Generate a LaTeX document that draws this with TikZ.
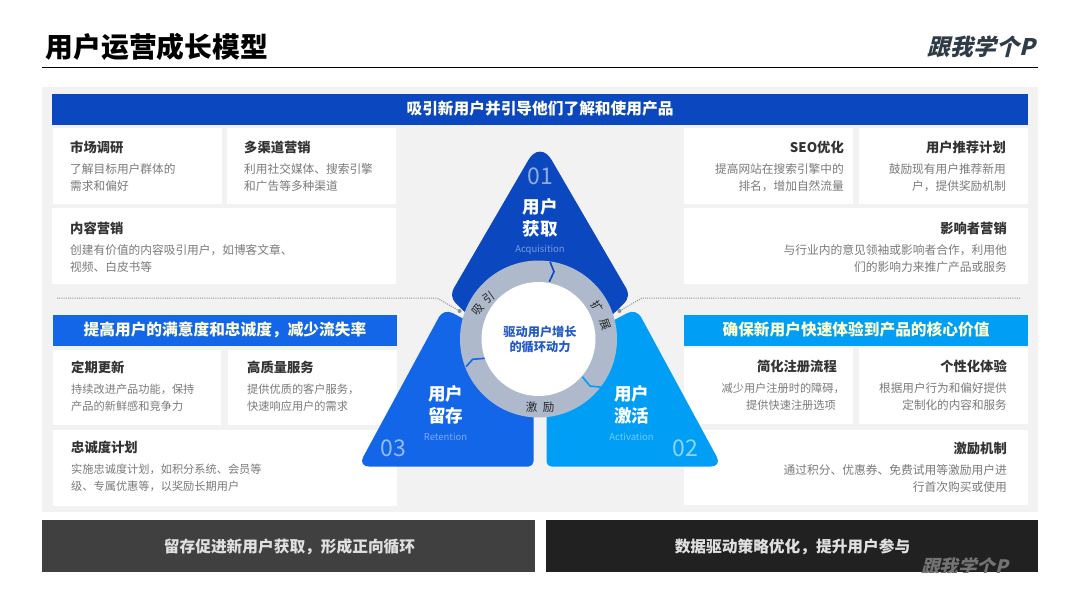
\documentclass[tikz,border=0pt]{standalone}
\usepackage{fontspec}
\setmainfont{Noto Sans CJK SC}
\newfontfamily\logofont[FakeSlant=0.25]{Noto Sans CJK SC}
\definecolor{panelgray}{HTML}{F2F2F2}
\definecolor{acqblue}{HTML}{0B47BF}
\definecolor{retblue}{HTML}{1366E8}
\definecolor{actblue}{HTML}{009FF5}
\definecolor{ringgray}{HTML}{AEBACC}
\definecolor{titlegray}{HTML}{333333}
\definecolor{bodygray}{HTML}{7A7A7A}
\definecolor{logogray}{HTML}{2F3B47}
\definecolor{guidegray}{HTML}{8A8F99}
\tikzset{
    card/.style={fill=white, inner sep=0pt},
    cardhead/.style={font=\fontsize{13.3}{15}\selectfont\bfseries, text=titlegray, inner sep=0pt},
    cardbody/.style={font=\fontsize{#1}{17.5}\selectfont, text=bodygray, inner sep=0pt},
    bartext/.style={font=\fontsize{15.7}{18}\selectfont\bfseries, inner sep=0pt},
    tribig/.style={font=\fontsize{17.5}{22}\selectfont\bfseries, text=white, align=center, inner sep=0pt},
    trinum/.style={font=\fontsize{23}{26}\selectfont, inner sep=0pt},
    trieng/.style={font=\fontsize{9.5}{11}\selectfont, inner sep=0pt},
    ringtext/.style={font=\fontsize{11.5}{13}\selectfont, text=black!85, inner sep=0pt},
    logotext/.style={font=\fontsize{#1}{23}\logofont\bfseries, inner sep=0pt},
    guide/.style={draw=guidegray, line width=1pt, dash pattern=on 1pt off 1.2pt},
    guidedot/.style={circle, fill=guidegray, minimum size=4pt, inner sep=0pt},
}
\begin{document}
\begin{tikzpicture}[x=1pt,y=-1pt]
    \useasboundingbox (0,0) rectangle (1080,608);
    \fill[white] (0,0) rectangle (1080,608);
    % heading
        \node[anchor=west, inner sep=0pt, font=\fontsize{27.8}{30}\selectfont\bfseries] (title) at (45.5,47) {用户运营成长模型};
        \node[logotext=22.8, anchor=east, text=logogray] (logo) at (1035,47) {跟我学个P};
        \coordinate (ruleL) at (42,67.5);
        \coordinate (ruleR) at (1037.5,67.5);
        \draw[line width=1.4pt] (ruleL) -- (ruleR);
    % panel
        \fill[panelgray] (42,87) rectangle (1037.5,512);
    % bars
        \foreach \name/\xa/\ya/\xb/\yb/\col/\txtcol/\txt in {
            barA/52/94/1028/124.5/acqblue/white!92!yellow/吸引新用户并引导他们了解和使用产品,
            barB/53/315/397/346/retblue/white!85!yellow/提高用户的满意度和忠诚度，减少流失率,
            barC/684/315/1028/346/actblue/white!80!yellow/确保新用户快速体验到产品的核心价值}{
            \fill[\col] (\xa,\ya) rectangle (\xb,\yb);
            \node[bartext, text=\txtcol] (\name) at ({(\xa+\xb)/2},{(\ya+\yb)/2-0.8}) {\txt};
        }
    % cards
        \foreach \xa/\ya/\xb/\yb in {
            53/128/222/203.5, 227/128/396/203.5, 52/208/396/284,
            684/128/853/203.5, 859/128/1028/203.5, 684/208/1028/284,
            53/350/221/425, 228/350/397/425, 53/430/397/506,
            684/348/853/424, 859/348/1028/424, 684/430/1028/505}{
            \fill[card] (\xa,\ya) rectangle (\xb,\yb);
        }
    % left texts
        \foreach \name/\x/\y/\fs/\head/\lineA/\lineB in {
            mkt/70/147/11.7/市场调研/了解目标用户群体的/需求和偏好,
            chn/244/147/11.7/多渠道营销/利用社交媒体、搜索引擎/和广告等多种渠道,
            cnt/70/228/11.7/内容营销/创建有价值的内容吸引用户，如博客文章、/视频、白皮书等,
            upd/71/367/11.2/定期更新/持续改进产品功能，保持/产品的新鲜感和竞争力,
            svc/247/367/11.2/高质量服务/提供优质的客户服务，/快速响应用户的需求,
            loy/71/447/11.2/忠诚度计划/实施忠诚度计划，如积分系统、会员等/级、专属优惠等，以奖励长期用户}{
            \node[cardhead, anchor=west] (\name) at (\x,\y+0.5) {\head};
            \node[cardbody=\fs, anchor=west] (\name A) at (\x,\y+22) {\lineA};
            \node[cardbody=\fs, anchor=west] (\name B) at (\x,\y+39.5) {\lineB};
        }
    % right texts
        \foreach \name/\x/\y/\fs/\head/\lineA/\lineB in {
            seo/844/147/11.7/SEO优化/提高网站在搜索引擎中的/排名，增加自然流量,
            rfr/1006/147/11.7/用户推荐计划/鼓励现有用户推荐新用/户，提供奖励机制,
            inf/1007/228/11.75/影响者营销/与行业内的意见领袖或影响者合作，利用他/们的影响力来推广产品或服务,
            prs/1007/366/11.6/个性化体验/根据用户行为和偏好提供/定制化的内容和服务,
            rwd/1007/448/11.75/激励机制/通过积分、优惠券、免费试用等激励用户进/行首次购买或使用}{
            \node[cardhead, anchor=east] (\name) at (\x,\y+0.5) {\head};
            \node[cardbody=\fs, anchor=east] (\name A) at (\x,\y+22) {\lineA};
            \node[cardbody=\fs, anchor=east] (\name B) at (\x,\y+39.5) {\lineB};
        }
        \node[cardhead, anchor=east] (sgn) at (837,366.5) {简化注册流程};
        \node[cardbody=11.2, anchor=east] (sgn A) at (845,388) {减少用户注册时的障碍，};
        \node[cardbody=11.2, anchor=east] (sgn B) at (836,405.5) {提供快速注册选项};
    % guides
        \coordinate (guideLa) at (57,298);
        \coordinate (guideLb) at (437,298);
        \coordinate (guideRa) at (1020,298);
        \coordinate (guideRb) at (642,298);
        \node[guidedot] (dotL) at (459.5,311) {};
        \node[guidedot] (dotR) at (619.5,311) {};
        \draw[guide] (guideLa) -- (guideLb) -- (dotL);
        \draw[guide] (guideRa) -- (guideRb) -- (dotR);
    % triangles
        \fill[acqblue, rounded corners=9pt] (540,386) -- (449,296.5) [rounded corners=23pt] -- (540,140) [rounded corners=9pt] -- (631,296.5) -- cycle;
        \fill[retblue, rounded corners=10pt] (443.7,308.3) -- (533.5,356) [rounded corners=5pt] -- (533.5,466.5) [rounded corners=11pt] -- (358,466.5) [rounded corners=10pt] -- cycle;
        \fill[actblue, rounded corners=10pt] (636.3,308.3) -- (546.5,356) [rounded corners=5pt] -- (546.5,466.5) [rounded corners=11pt] -- (722,466.5) [rounded corners=10pt] -- cycle;
    % ring
        \fill[ringgray] (538.5,339) circle (78.5pt);
        \draw[acqblue, line width=1.6pt] (550,261.7) -- (554,271.7) -- (549.3,281.7);
        \draw[actblue, line width=1.6pt] (582.3,376.7) -- (590,386) -- (601.7,387.3);
        \draw[retblue, line width=1.6pt] (485,358.3) -- (472.7,359.3) -- (466,366.7);
        \fill[white] (538.5,339) circle (57pt);
        \node[font=\fontsize{12.2}{15.5}\selectfont\bfseries, text=acqblue!90, align=center, inner sep=0pt] (core) at (540,339.5) {驱动用户增长\\的循环动力};
        \foreach \name/\x/\y/\rot/\ch in {
            ringA/478.5/310/50/吸, ringB/488.5/298/35/引,
            ringC/597/306.5/-55/扩, ringD/605/325/-70/展,
            ringE/531.5/407/0/激, ringF/548.5/407/0/励}{
            \node[ringtext, rotate=\rot] (\name) at (\x,\y) {\ch};
        }
    % triangle labels
        \foreach \name/\x/\y/\big/\eng/\num/\nx/\ny/\col in {
            acq/540/218/用户\\获取/Acquisition/01/540/176/acqblue,
            ret/445.5/404.5/用户\\留存/Retention/03/393/448/retblue,
            act/631.5/404.5/用户\\激活/Activation/02/685/448/actblue}{
            \node[tribig] (\name) at (\x,\y) {\big};
            \node[trieng, text=\col!55!white] (\name E) at (\x,\y+32) {\eng};
            \node[trinum, text=\col!45!white] (\name N) at (\nx,\ny) {\num};
        }
    % footer
        \fill[black!75] (42,520) rectangle (534.5,572);
        \fill[black!87] (546,520) rectangle (1038,572);
        \node[bartext, text=white!88!black] (footL) at (289.5,546.5) {留存促进新用户获取，形成正向循环};
        \node[bartext, text=white!88!black] (footR) at (792.5,546.5) {数据驱动策略优化，提升用户参与};
        \begin{scope}
            \clip (546,520) rectangle (1038,572);
            \node[logotext=18.5, anchor=east, text=white!45!black] (mark) at (1008,566) {跟我学个P};
        \end{scope}
\end{tikzpicture}
\end{document}
